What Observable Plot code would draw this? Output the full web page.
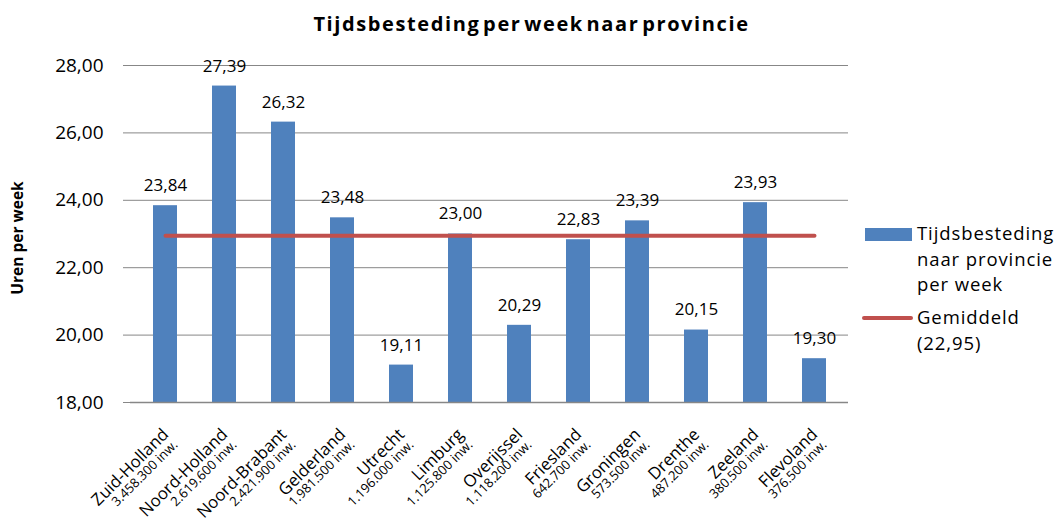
<!DOCTYPE html>
<html>
<head>
<meta charset="utf-8">
<script src="https://cdn.jsdelivr.net/npm/d3@7"></script>
<script src="https://cdn.jsdelivr.net/npm/@observablehq/plot@0.6"></script>
<style>
  html, body { margin: 0; padding: 0; background: #fff; }
  #wrap { position: relative; width: 1063px; height: 527px; font-family: "Open Sans", sans-serif; color: #000; }
  #chart { position: absolute; left: 0; top: 0; }
  #title { position: absolute; left: 0; width: 1063px; top: 10px; text-align: center; font-weight: bold; font-size: 20px; letter-spacing: 1.6px; word-spacing: -4px; }
  .leg { position: absolute; font-size: 18.5px; line-height: 25.5px; letter-spacing: 0.9px; }
  .sw { position: absolute; }
</style>
</head>
<body>
<div id="wrap">
  <div id="chart"></div>
  <div id="title">Tijdsbesteding per week naar provincie</div>
  <div class="sw" style="left:865px;top:228px;width:47px;height:13px;background:#4F81BD"></div>
  <div class="leg" style="left:917px;top:220px">Tijdsbesteding<br>naar provincie<br>per week</div>
  <div class="sw" style="left:862px;top:316px;width:51px;height:4px;background:#C0504D;border-radius:2px"></div>
  <div class="leg" style="left:917px;top:304px">Gemiddeld<br>(22,95)</div>
</div>
<script>
const provinces = ["Zuid-Holland","Noord-Holland","Noord-Brabant","Gelderland","Utrecht","Limburg","Overijssel","Friesland","Groningen","Drenthe","Zeeland","Flevoland"];
const population = ["3.458.300 inw.","2.619.600 inw.","2.421.900 inw.","1.981.500 inw.","1.196.000 inw.","1.125.800 inw.","1.118.200 inw.","642.700 inw.","573.500 inw.","487.200 inw.","380.500 inw.","376.500 inw."];
const hours = [23.84,27.39,26.32,23.48,19.11,23.00,20.29,22.83,23.39,20.15,23.93,19.30];
const average = 22.95;
const yTicks = [18,20,22,24,26,28];

const data = provinces.map((p, i) => ({p, pop: population[i], v: hours[i], avg: average}));
const fmt = d => d.toFixed(2).replace(".", ",");
const base = yTicks[0];
const grey = "#878787";

const chart = Plot.plot({
  width: 1063,
  height: 527,
  marginLeft: 130,
  marginRight: 215,
  marginTop: 65,
  marginBottom: 125,
  style: {fontFamily: "Open Sans, sans-serif", background: "#fff", color: "#000"},
  x: {domain: provinces, paddingInner: 0.6, paddingOuter: 0.3, axis: null},
  y: {domain: [yTicks[0], yTicks[yTicks.length - 1]], axis: null},
  marks: [
    Plot.gridY(yTicks, {stroke: grey, strokeOpacity: 1, strokeWidth: 1}),
    Plot.axisY(yTicks, {tickFormat: fmt, tickSize: 7, tickPadding: 20, stroke: grey, fontSize: 19, letterSpacing: 2, fill: "#000", label: null}),
    Plot.ruleX([0], {frameAnchor: "left", stroke: grey, strokeWidth: 1.5}),
    Plot.text(["Uren per week"], {frameAnchor: "left", textAnchor: "middle", rotate: -90, dx: -112, dy: 4, fontWeight: "bold", fontSize: 15.5, fill: "#000"}),
    Plot.barY(data, {x: "p", y1: () => base, y2: "v", fill: "#4F81BD"}),
    Plot.ruleY([base], {stroke: grey, strokeWidth: 1.5}),
    Plot.line(data, {x: "p", y: "avg", stroke: "#C0504D", strokeWidth: 4}),
    Plot.text(data, {x: "p", y: "v", text: d => fmt(d.v), dy: -20, fontSize: 17, letterSpacing: 1.8, fill: "#000"}),
    Plot.text(data, {x: "p", text: "p", frameAnchor: "bottom", rotate: -45, textAnchor: "end", dx: 4, dy: 33, fontSize: 16.8, letterSpacing: 0.2, fill: "#000"}),
    Plot.text(data, {x: "p", text: "pop", frameAnchor: "bottom", rotate: -45, textAnchor: "end", dx: 13, dy: 43, fontSize: 13, letterSpacing: 0.3, fill: "#000"})
  ]
});
document.getElementById("chart").appendChild(chart);
</script>
</body>
</html>
